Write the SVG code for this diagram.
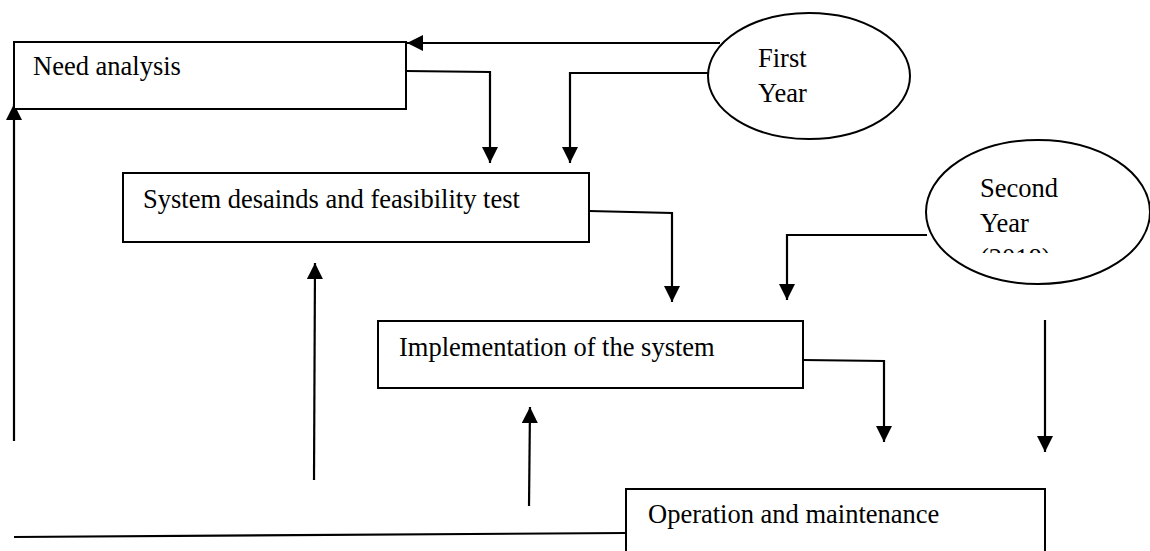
<svg xmlns="http://www.w3.org/2000/svg" width="1150" height="551" viewBox="0 0 1150 551">
<style>
.box{fill:#fff;stroke:#000;stroke-width:2}
.ell{fill:#fff;stroke:#000;stroke-width:2}
.t{font-family:"Liberation Serif","Times New Roman",serif;font-size:26.5px;fill:#000}
.c{fill:none;stroke:#000;stroke-width:2.2}
</style>
<defs>
<marker id="ah" markerUnits="userSpaceOnUse" markerWidth="16" markerHeight="16" refX="15" refY="7.5" orient="auto" viewBox="0 0 15 15">
<path d="M0,0 L15,7.5 L0,15 z" fill="#000"/>
</marker>
<clipPath id="clipSecond"><rect x="900" y="130" width="250" height="123"/></clipPath>
</defs>
<rect width="1150" height="551" fill="#fff"/>
<g id="connectors">
<path class="c" d="M720,43 L407,43" marker-end="url(#ah)"/>
<path class="c" d="M406,71 L490,72 L490,163" marker-end="url(#ah)"/>
<path class="c" d="M708,73 L570,73 L570,163" marker-end="url(#ah)"/>
<path class="c" d="M589,211 L672,213 L672,302" marker-end="url(#ah)"/>
<path class="c" d="M927,235 L787,235 L787,300" marker-end="url(#ah)"/>
<path class="c" d="M803,360 L884,361 L884,442" marker-end="url(#ah)"/>
<path class="c" d="M1045,320 L1045,452" marker-end="url(#ah)"/>
<path class="c" d="M14,537 L626,533"/>
<path class="c" d="M14,441 L14,104" marker-end="url(#ah)"/>
<path class="c" d="M314,480 L315,263" marker-end="url(#ah)"/>
<path class="c" d="M529,506 L530,407" marker-end="url(#ah)"/>
</g>
<g id="need-analysis">
<rect class="box" x="14" y="42" width="392" height="67"/>
<text class="t" x="33" y="75">Need analysis</text>
</g>
<g id="system-designs">
<rect class="box" x="123" y="173" width="466" height="69"/>
<text class="t" x="143" y="208">System desainds and feasibility test</text>
</g>
<g id="implementation">
<rect class="box" x="378" y="321" width="425" height="67"/>
<text class="t" x="399" y="356">Implementation of the system</text>
</g>
<g id="operation">
<rect class="box" x="626" y="489" width="419" height="80"/>
<text class="t" x="648" y="523">Operation and maintenance</text>
</g>
<g id="first-year">
<ellipse class="ell" cx="809" cy="76" rx="101" ry="63"/>
<text class="t" x="758" y="67">First</text>
<text class="t" x="758" y="102">Year</text>
</g>
<g id="second-year">
<ellipse class="ell" cx="1038" cy="212" rx="112" ry="72"/>
<g clip-path="url(#clipSecond)">
<text class="t" x="980" y="197">Second</text>
<text class="t" x="980" y="232">Year</text>
<text class="t" x="980" y="267">(2018)</text>
</g>
</g>
</svg>
